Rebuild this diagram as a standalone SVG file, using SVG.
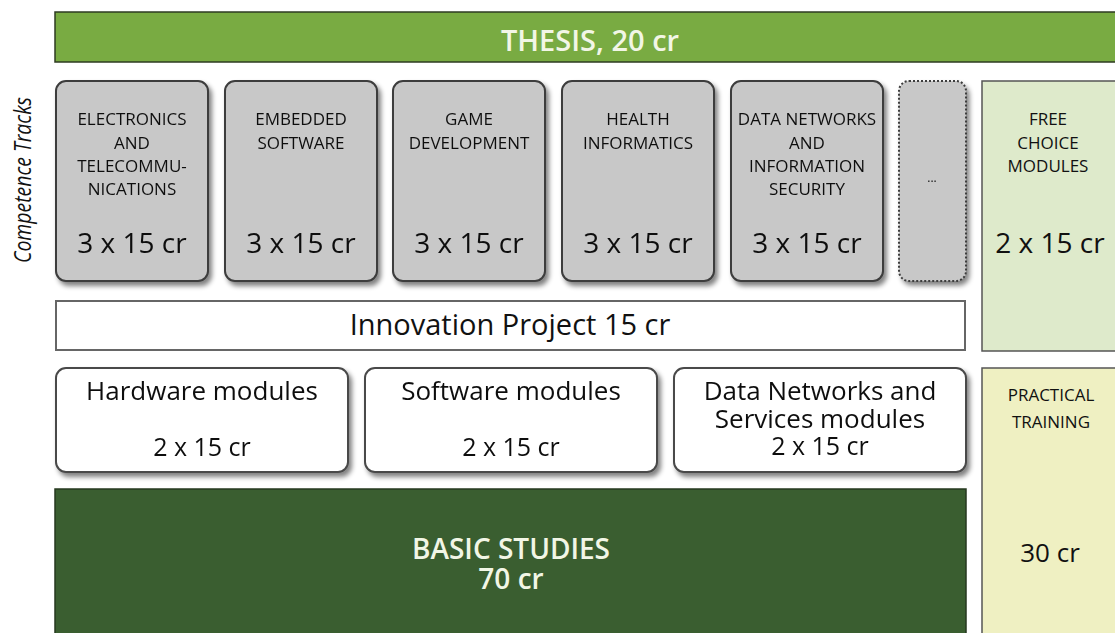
<svg xmlns="http://www.w3.org/2000/svg" width="1115" height="633" viewBox="0 0 1115 633">
<defs>
<filter id="sh" x="-10%" y="-10%" width="130%" height="130%">
<feGaussianBlur in="SourceAlpha" stdDeviation="2.5"/>
<feOffset dx="3" dy="4" result="b"/>
<feComponentTransfer><feFuncA type="linear" slope="0.5"/></feComponentTransfer>
<feMerge><feMergeNode/><feMergeNode in="SourceGraphic"/></feMerge>
</filter>
</defs>
<style>
text{font-family:"Open Sans","Liberation Sans",sans-serif;fill:#111;text-anchor:middle}
.track{fill:#c8c8c8;stroke:#3c3c3c;stroke-width:2}
.cap{font-size:17px}
.cr{font-size:28px}
.mod{fill:#fff;stroke:#4a4a4a;stroke-width:2}
.big{font-size:26px}
.sm{font-size:25px}
.wb{fill:#f2f6e6;font-weight:600}
</style>
<rect width="1115" height="633" fill="#fff"/>

<g id="thesis">
<rect x="55" y="12" width="1070" height="50" fill="#79ab42" stroke="#2e3b22" stroke-width="1.5"/>
<text x="590" y="51" class="wb" font-size="29">THESIS, 20 cr</text>
</g>

<g id="competence-label">
<text transform="translate(31,180) rotate(-90)" font-size="24" font-style="italic" textLength="166" lengthAdjust="spacingAndGlyphs">Competence Tracks</text>
</g>

<g id="track-electronics" filter="url(#sh)">
<rect class="track" x="56" y="81" width="152" height="200" rx="10"/>
<text class="cap" x="132" y="125">ELECTRONICS</text>
<text class="cap" x="132" y="149">AND</text>
<text class="cap" x="132" y="172">TELECOMMU-</text>
<text class="cap" x="132" y="195">NICATIONS</text>
<text class="cr" x="132" y="253">3 x 15 cr</text>
</g>
<g id="track-embedded" filter="url(#sh)">
<rect class="track" x="225" y="81" width="152" height="200" rx="10"/>
<text class="cap" x="301" y="125">EMBEDDED</text>
<text class="cap" x="301" y="149">SOFTWARE</text>
<text class="cr" x="301" y="253">3 x 15 cr</text>
</g>
<g id="track-game" filter="url(#sh)">
<rect class="track" x="393" y="81" width="152" height="200" rx="10"/>
<text class="cap" x="469" y="125">GAME</text>
<text class="cap" x="469" y="149">DEVELOPMENT</text>
<text class="cr" x="469" y="253">3 x 15 cr</text>
</g>
<g id="track-health" filter="url(#sh)">
<rect class="track" x="562" y="81" width="152" height="200" rx="10"/>
<text class="cap" x="638" y="125">HEALTH</text>
<text class="cap" x="638" y="149">INFORMATICS</text>
<text class="cr" x="638" y="253">3 x 15 cr</text>
</g>
<g id="track-datanet" filter="url(#sh)">
<rect class="track" x="731" y="81" width="152" height="200" rx="10"/>
<text class="cap" x="807" y="125">DATA NETWORKS</text>
<text class="cap" x="807" y="149">AND</text>
<text class="cap" x="807" y="172">INFORMATION</text>
<text class="cap" x="807" y="195">SECURITY</text>
<text class="cr" x="807" y="253">3 x 15 cr</text>
</g>
<g id="track-more" filter="url(#sh)">
<rect x="899" y="81" width="67" height="200" rx="10" fill="#c8c8c8" stroke="#3c3c3c" stroke-width="2" stroke-dasharray="2 2"/>
<text x="932" y="182" font-size="12">...</text>
</g>

<g id="free-choice">
<rect x="982" y="81" width="140" height="270" fill="#deeacb" stroke="#555" stroke-width="1.5"/>
<text class="cap" x="1048" y="125">FREE</text>
<text class="cap" x="1048" y="149">CHOICE</text>
<text class="cap" x="1048" y="172">MODULES</text>
<text class="cr" x="1050" y="253">2 x 15 cr</text>
</g>

<g id="innovation">
<rect x="56" y="301" width="909" height="49" fill="#fff" stroke="#666" stroke-width="2"/>
<text x="510" y="335" font-size="29">Innovation Project 15 cr</text>
</g>

<g id="hardware" filter="url(#sh)">
<rect class="mod" x="56" y="368" width="292" height="104" rx="10"/>
<text class="big" x="202" y="400">Hardware modules</text>
<text class="sm" x="202" y="456">2 x 15 cr</text>
</g>
<g id="software" filter="url(#sh)">
<rect class="mod" x="365" y="368" width="292" height="104" rx="10"/>
<text class="big" x="511" y="400">Software modules</text>
<text class="sm" x="511" y="456">2 x 15 cr</text>
</g>
<g id="datanet-services" filter="url(#sh)">
<rect class="mod" x="674" y="368" width="292" height="104" rx="10"/>
<text class="big" x="820" y="400">Data Networks and</text>
<text class="big" x="820" y="428">Services modules</text>
<text class="sm" x="820" y="455">2 x 15 cr</text>
</g>

<g id="practical">
<rect x="982" y="368" width="140" height="275" fill="#eff0c2" stroke="#555" stroke-width="1.5"/>
<text class="cap" x="1051" y="401">PRACTICAL</text>
<text class="cap" x="1051" y="428">TRAINING</text>
<text class="big" x="1050" y="562">30 cr</text>
</g>

<g id="basic">
<rect x="55" y="489" width="911" height="154" fill="#3a5e30" stroke="#26391f" stroke-width="1.5"/>
<text x="511" y="559" class="wb" font-size="28">BASIC STUDIES</text>
<text x="511" y="589" class="wb" font-size="28">70 cr</text>
</g>

<g id="connectors"></g>
</svg>
